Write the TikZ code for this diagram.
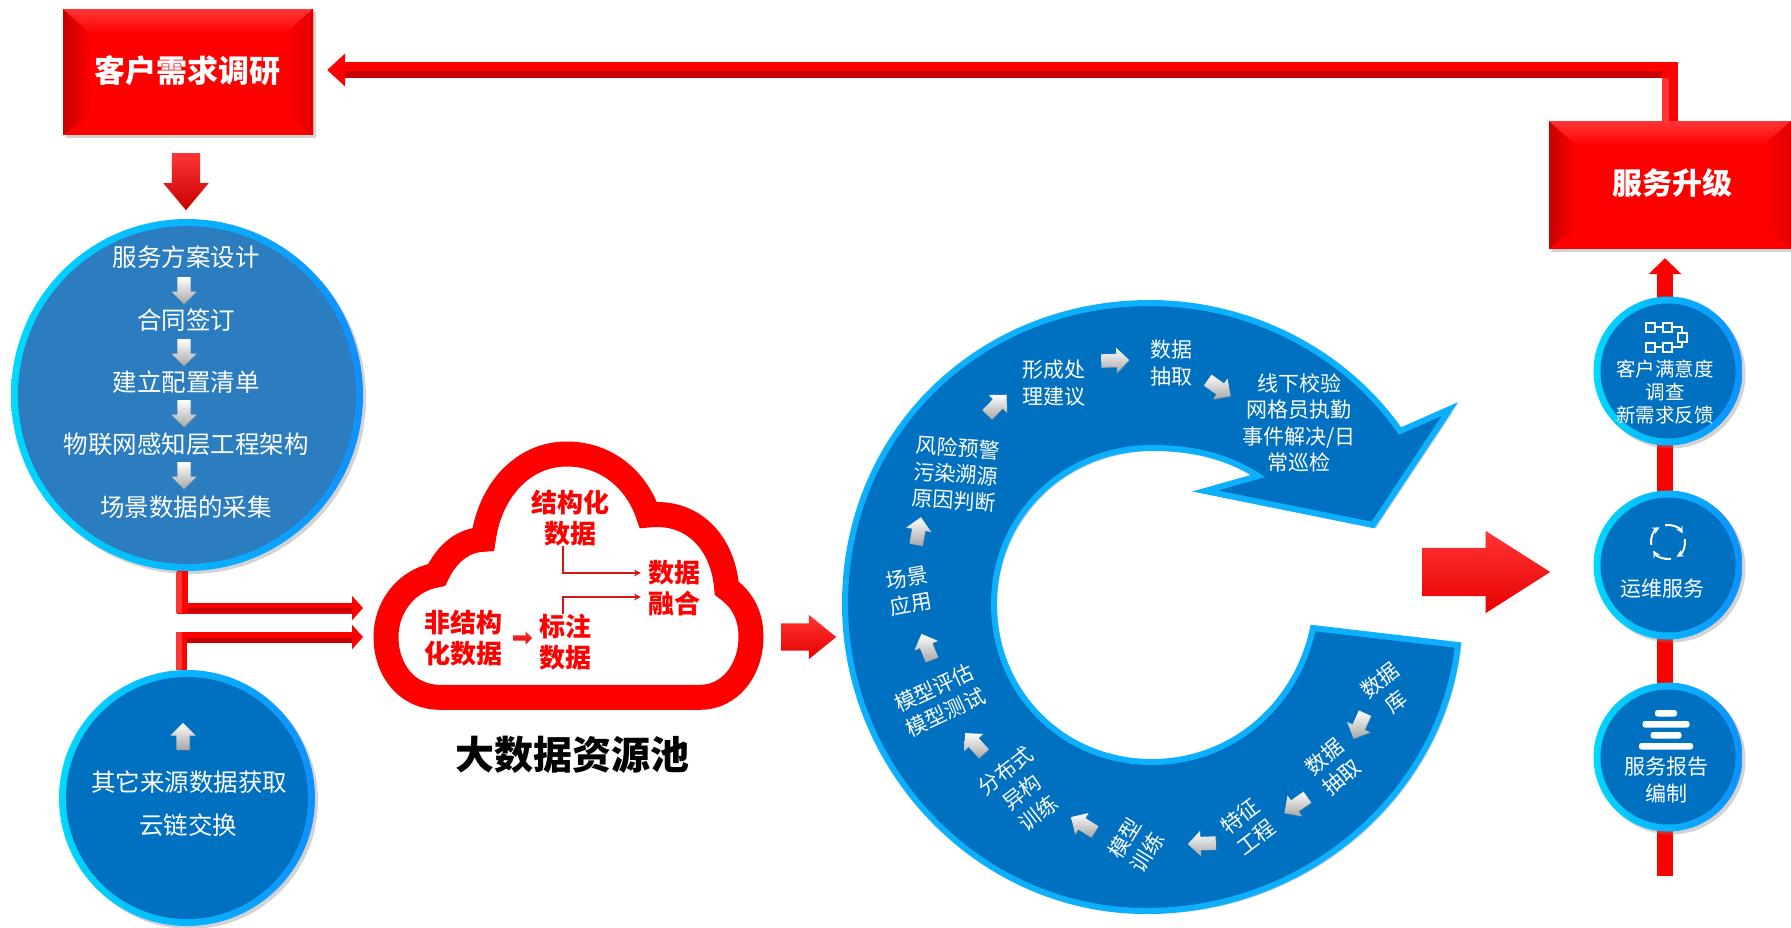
\documentclass[tikz,border=0pt]{standalone}
\usepackage{fontspec}
\setmainfont{Noto Sans CJK SC}
\usepackage{tikz}
\usetikzlibrary{shapes.arrows, arrows.meta, positioning, backgrounds, shadows}
\definecolor{discblue}{HTML}{0070C0}
\definecolor{schemeblue}{HTML}{2B7DC0}
\definecolor{ringcyan}{HTML}{00D8FF}
\definecolor{ringblue}{HTML}{1090FF}
\definecolor{bandblue}{HTML}{0DB0FF}
\definecolor{darkred}{HTML}{C80000}
\definecolor{midred}{HTML}{E80000}
\definecolor{lightred}{HTML}{FF3535}
\definecolor{wirered}{HTML}{D01818}
\tikzstyle{softshadow} = [drop shadow={shadow xshift=3pt, shadow yshift=-3pt, opacity=0.35}]
\tikzstyle{bar} = [red, line width=16pt]
\tikzstyle{wire} = [wirered, line width=2pt, ->, >=stealth]

\begin{document}
\begin{tikzpicture}[x=1pt, y=-1pt,
    bevelbox/.style={rectangle, fill=red, inner sep=0pt, softshadow, text=white, font=\fontsize{31pt}{36pt}\selectfont\bfseries,
        path picture={
            \path (path picture bounding box.north west) coordinate (bn) (path picture bounding box.south east) coordinate (bs);
            \fill[left color=darkred, right color=red] (bn) -- ++(28,25) -- ([shift={(28,-21)}]bn |- bs) -- (bn |- bs) -- cycle;
            \fill[top color=lightred, bottom color=red] (bn) -- ++(28,25) -- ([shift={(-28,25)}]bs |- bn) -- (bs |- bn) -- cycle;
            \fill[right color=darkred!50!red, left color=red] (bs |- bn) -- ([shift={(-28,25)}]bs |- bn) -- ([shift={(-28,-21)}]bs) -- (bs) -- cycle;
        }},
    bubble/.style 2 args={circle, inner sep=0pt, minimum size=#1, left color=ringcyan, right color=ringblue, softshadow,
        path picture={\fill[#2] (path picture bounding box.center) circle ({#1/2-7pt});}},
    blockarrow/.style={single arrow, anchor=tail, inner xsep=0pt, draw=none, top color=lightred, middle color=red, bottom color=midred},
    whitearrow/.style={single arrow, anchor=tail, inner xsep=0pt, inner ysep=6.5pt, draw=none, minimum height=28pt,
        single arrow head extend=6pt, top color=white, middle color=white, bottom color=black!35, drop shadow={shadow xshift=1pt, shadow yshift=-1pt, opacity=0.3}},
    bubbletext/.style={white, align=center, font=\fontsize{24.5pt}{30pt}\selectfont},
    ringtext/.style={white, align=center, font=\fontsize{21pt}{26.5pt}\selectfont},
    smalltext/.style={white, align=center, font=\fontsize{19.5pt}{23pt}\selectfont},
    cloudtext/.style={red, align=center, inner sep=0pt, font=\fontsize{26pt}{30.5pt}\selectfont\bfseries},
    iconbox/.style={draw=white, line width=2pt, minimum size=9pt, inner sep=0pt},
    iconline/.style={white, line width=2pt}]

    \useasboundingbox (0,0) rectangle (1791,927);

    % Boxes
    \node[bevelbox, minimum width=250pt, minimum height=126pt] (survey) at (188,72) {};
    \node[bevelbox, minimum width=242pt, minimum height=128pt] (upgrade) at (1670,185) {};
    \node[white, font=\fontsize{31pt}{36pt}\selectfont\bfseries] (surveytext) at (187,71) {客户需求调研};
    \node[white, font=\fontsize{30pt}{36pt}\selectfont\bfseries] (upgradetext) at (1672,183) {服务升级};

    % Left column
    \node[blockarrow, rotate=-90, minimum height=57pt, inner ysep=14pt, single arrow head extend=8.5pt, single arrow tip angle=80, bottom color=darkred] (downarrow) at (186,153) {};
    \node[bubble={352pt}{schemeblue}] (scheme) at (187,395) {};
    \node[bubbletext] (plan) at (186,257) {服务方案设计};
    \node[bubbletext] (contract) at (186,320) {合同签订};
    \node[bubbletext] (config) at (186,382) {建立配置清单};
    \node[bubbletext] (iot) at (186,444) {物联网感知层工程架构};
    \node[bubbletext] (collect) at (186,507) {场景数据的采集};
    \node[whitearrow, rotate=-90, minimum height=27pt] (step1) at (184,277) {};
    \node[whitearrow, rotate=-90, minimum height=27pt] (step2) at (184,339) {};
    \node[whitearrow, rotate=-90, minimum height=27pt] (step3) at (184,400) {};
    \node[whitearrow, rotate=-90, minimum height=27pt] (step4) at (184,462) {};

    \node[bubble={256pt}{discblue}] (other) at (187,798) {};
    \node[whitearrow, rotate=90, minimum height=27pt] (otherarrow) at (183,750) {};
    \node[bubbletext] (othertext) at (189,782) {其它来源数据获取};
    \node[bubbletext] (chain) at (188,825) {云链交换};

    % Feedback and inputs
    \coordinate (cloudin1) at (363,608);
    \coordinate (cloudin2) at (363,637);
    \draw[bar, -{Triangle[length=18pt, width=32pt]}] (upgrade.north) |- ([xshift=14pt, yshift=2pt]survey.east);
    \draw[darkred, line width=7pt] (345,74.5) -- (1662,74.5);
    \draw[lightred, line width=7pt] (1665.5,78) -- (1665.5,121);
    \draw[red, line width=11pt, -{Triangle[length=11pt, width=24pt]}] ([xshift=-5pt]scheme.south) |- (cloudin1);
    \draw[red, line width=11pt, -{Triangle[length=11pt, width=24pt]}] ([xshift=-5.5pt]other.north) |- (cloudin2);
    \draw[darkred, line width=5pt] (188,610.5) -- (352,610.5);
    \draw[darkred, line width=5pt] (187,640.5) -- (352,640.5);
    \draw[lightred, line width=5.5pt] (179,572) -- (179,613);
    \draw[lightred, line width=5.5pt] (179,632) -- (179,670);

    % Cloud
    \draw[red, fill=white, line width=25pt] (440,697.3) .. controls (406.7,697.3) and (386,670) .. (386,636.7)
        .. controls (386,606.7) and (406.7,580) .. (436.7,575)
        .. controls (446.7,553.3) and (463.3,540) .. (483.3,539.3)
        .. controls (490,490) and (523.3,454) .. (566.7,454)
        .. controls (606.7,454) and (636.7,480) .. (648.3,515)
        .. controls (693.3,510) and (723.3,543.3) .. (726.7,588.3)
        .. controls (743.3,600) and (751,616.7) .. (751,636.7)
        .. controls (751,670) and (730,697.3) .. (700,697.3) -- cycle;
    \node[cloudtext] (structured) at (570,518) {结构化\\数据};
    \node[cloudtext] (merge) at (674,588) {数据\\融合};
    \node[cloudtext] (raw) at (463,638) {非结构\\化数据};
    \node[cloudtext] (labeled) at (565,642) {标注\\数据};
    \node[blockarrow, minimum height=19pt, inner ysep=2.5pt, single arrow head extend=4pt] (rawarrow) at (513,638) {};
    \draw[wire] ([xshift=-7pt]structured.south) |- ([xshift=-7pt, yshift=15pt]merge.west);
    \draw[wire] ([xshift=-2pt]labeled.north) |- ([xshift=-7pt, yshift=-9pt]merge.west);
    \node[black, font=\fontsize{39pt}{44pt}\selectfont\bfseries] (pool) at (572,755) {大数据资源池};
    \node[blockarrow, minimum height=55pt, inner ysep=13.5pt, single arrow head extend=8.5pt, single arrow tip angle=78] (cloudout) at (781,637) {};

    % Ring
    \draw[bandblue, fill=discblue, line width=6pt, miter limit=10, softshadow] (1458,645) .. controls (1442,790) and (1310,911) .. (1146,911)
        .. controls (980,911) and (845,770) .. (845,604)
        .. controls (845,432) and (980,303) .. (1150,303)
        .. controls (1250,303) and (1345,352) .. (1400,431)
        -- (1450,409) -- (1373,525) -- (1205,491) -- (1258,476)
        .. controls (1225,455) and (1190,448) .. (1152,448)
        .. controls (1065,448) and (994,515) .. (994,604)
        .. controls (994,693) and (1063,762) .. (1152,762)
        .. controls (1232,762) and (1297,705) .. (1313,628) -- cycle;
    \node[ringtext] (offline) at (1299,423) {线下校验\\网格员执勤\\事件解决/日\\常巡检};
    \node[ringtext] (extract) at (1171,363) {数据\\抽取};
    \node[ringtext] (advice) at (1054,383) {形成处\\理建议};
    \node[ringtext, rotate=-4] (warning) at (956,474) {风险预警\\污染溯源\\原因判断};
    \node[ringtext, rotate=10] (scene) at (909,591) {场景\\应用};
    \node[ringtext, rotate=25] (evaluate) at (940,700) {模型评估\\模型测试};
    \node[ringtext, rotate=38] (distributed) at (1022,792) {分布式\\异构\\训练};
    \node[ringtext, rotate=58] (training) at (1136,845) {模型\\训练};
    \node[ringtext, rotate=37] (feature) at (1248,827) {特征\\工程};
    \node[ringtext, rotate=40] (fetch) at (1333,767) {数据\\抽取};
    \node[ringtext, rotate=38] (database) at (1388,691) {数据\\库};
    \node[whitearrow, rotate=246] (flow1) at (1365,713) {};
    \node[whitearrow, rotate=215] (flow2) at (1307.5,797) {};
    \node[whitearrow, rotate=182] (flow3) at (1216,843) {};
    \node[whitearrow, rotate=148] (flow4) at (1095,832) {};
    \node[whitearrow, rotate=132] (flow5) at (984,754) {};
    \node[whitearrow, rotate=112] (flow6) at (932,660) {};
    \node[whitearrow, rotate=80] (flow7) at (916,545) {};
    \node[whitearrow, rotate=46] (flow8) at (987,415) {};
    \node[whitearrow, rotate=2] (flow9) at (1101,361) {};
    \node[whitearrow, rotate=-35] (flow10) at (1207.5,380) {};
    \node[blockarrow, minimum height=128pt, inner ysep=24pt, single arrow head extend=17pt, single arrow tip angle=65] (bigarrow) at (1422,572) {};

    % Right column
    \coordinate (spinebot) at (1665,876);
    \begin{scope}[on background layer]
        \draw[red, line width=16pt, -{Triangle[length=16pt, width=32pt]}, shorten >=9pt] (spinebot) -- (spinebot |- upgrade.south);
    \end{scope}
    \node[bubble={149pt}{discblue}] (satisfy) at (1668,371) {};
    \node[bubble={149pt}{discblue}] (maintain) at (1668,565) {};
    \node[bubble={149pt}{discblue}] (report) at (1668,757) {};
    \node[smalltext] (satisfytext) at (1665,392) {客户满意度\\调查\\新需求反馈};
    \node[ringtext] (maintaintext) at (1662,589) {运维服务};
    \node[ringtext] (reporttext) at (1666,780) {服务报告\\编制};

    % Icons
    \node[iconbox] (sq1) at (1650,327) {};
    \node[iconbox] (sq2) at (1667,327) {};
    \node[iconbox] (sq3) at (1650,347) {};
    \node[iconbox] (sq4) at (1667,347) {};
    \node[iconbox] (sq5) at (1682,337) {};
    \draw[iconline] (sq1) -- (sq2);
    \draw[iconline] (sq3) -- (sq4);
    \draw[iconline] (sq2) -| (sq5);
    \draw[iconline] (sq4) -| (sq5);
    \coordinate (cycle) at (1668,542);
    \begin{scope}[shift={(cycle)}, x=1pt, y=1pt]
        \foreach \a in {0,90,180,270} {
            \draw[white, line width=2pt, -{Stealth[length=7pt, width=7pt]}] ({100-\a}:17) arc[start angle=100-\a, end angle=30-\a, radius=17pt];
        }
    \end{scope}
    \fill[white, rounded corners=2.5pt] (1655,710) rectangle (1677,716.5);
    \fill[white, rounded corners=2.5pt] (1642.5,721) rectangle (1689.5,727.5);
    \fill[white, rounded corners=2.5pt] (1650.5,732) rectangle (1681.5,738.5);
    \fill[white, rounded corners=2.5pt] (1639,743) rectangle (1693,749.5);
\end{tikzpicture}
\end{document}
